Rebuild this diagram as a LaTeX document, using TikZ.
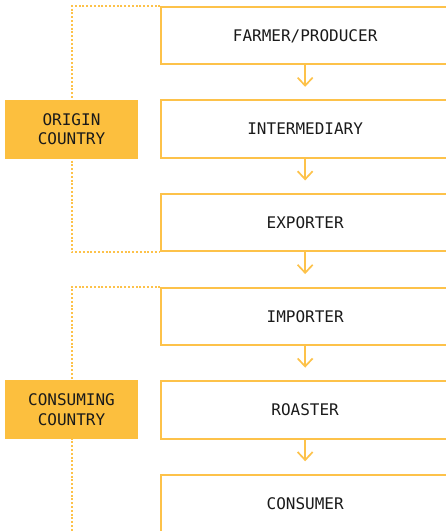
\documentclass[tikz,border=0pt]{standalone}
\usepackage{fontspec}
\setmonofont{DejaVu Sans Mono}
\usetikzlibrary{arrows.meta}
\definecolor{gold}{HTML}{FCBF3E}
\definecolor{goldline}{HTML}{FDC24A}
\definecolor{ink}{HTML}{1A1A1A}
\begin{document}
\begin{tikzpicture}[x=1pt,y=-1pt,
  txt/.style={font=\ttfamily\fontsize{16}{19.5}\selectfont,text=ink},
  stepbox/.style={txt,draw=goldline,line width=2pt,minimum width=287.7pt,minimum height=57.5pt,inner sep=0pt,text height=11.6pt,text depth=0pt},
  labelbox/.style={txt,fill=gold,minimum width=133pt,minimum height=59pt,inner sep=0pt,align=center},
  arr/.style={draw=goldline,line width=1.7pt,-{Straight Barb[length=8pt,width=15pt]},shorten >=12.5pt},
  dotline/.style={draw=goldline,line width=2pt,dash pattern=on 2pt off 1.8pt}]
\useasboundingbox (0,0) rectangle (446,531);
\clip (0,0) rectangle (446,531);
\node[stepbox] (b1) at (305.15,35.5) {FARMER/PRODUCER};
\node[stepbox] (b2) at (305.15,129.1) {INTERMEDIARY};
\node[stepbox] (b3) at (305.15,222.7) {EXPORTER};
\node[stepbox] (b4) at (305.15,316.3) {IMPORTER};
\node[stepbox] (b5) at (305.15,409.9) {ROASTER};
\node[stepbox] (b6) at (305.15,503.5) {CONSUMER};
\coordinate (lx) at (72,0);
\coordinate (dend) at (72,540);
\draw[dotline] (b1.north west) -- (b1.north west -| lx) -- (b3.south west -| lx) -- (b3.south west);
\draw[dotline] (b4.north west) -- (b4.north west -| lx) -- (dend);
\node[labelbox] (o) at (71.5,129.3) {ORIGIN\\COUNTRY};
\node[labelbox] (c) at (71.5,409.5) {CONSUMING\\COUNTRY};
\draw[arr] (b1) -- (b2);
\draw[arr] (b2) -- (b3);
\draw[arr] (b3) -- (b4);
\draw[arr] (b4) -- (b5);
\draw[arr] (b5) -- (b6);
\end{tikzpicture}
\end{document}
